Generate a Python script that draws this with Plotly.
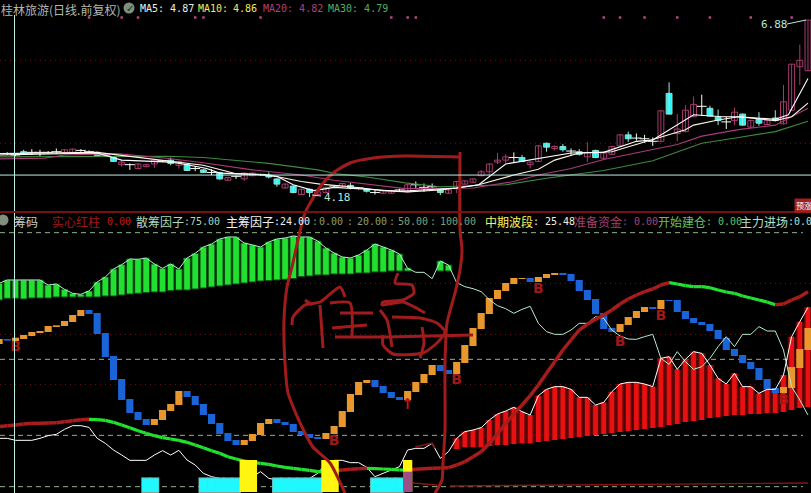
import plotly.graph_objects as go

# ---------- price pane (index 0..98) ----------
OPEN = [4.82,4.80,4.85,4.84,4.84,4.84,4.85,4.84,4.84,4.87,4.85,4.84,4.80,4.76,4.65,4.65,4.59,4.62,4.66,4.71,
        4.72,4.64,4.65,4.59,4.57,4.53,4.53,4.41,4.47,4.43,4.48,4.50,4.49,4.43,4.29,4.32,4.19,4.27,4.19,4.22,
        4.32,4.32,4.33,4.29,4.27,4.22,4.21,4.21,4.26,4.23,4.34,4.30,4.31,4.27,4.21,4.28,4.35,4.38,4.48,4.54,
        4.69,4.72,4.76,4.76,4.65,4.70,4.98,4.90,4.93,4.86,4.85,4.77,4.87,4.75,4.81,4.94,5.11,5.06,5.05,5.01,
        5.01,5.75,5.13,5.16,5.39,5.55,5.52,5.38,5.31,5.33,5.43,5.23,5.35,5.27,5.37,5.28,5.49,6.16,6.10]
HIGH = [4.84,4.82,4.88,4.89,4.88,4.86,4.90,4.89,4.90,4.89,4.87,4.85,4.82,4.77,4.72,4.67,4.67,4.66,4.73,4.72,
        4.76,4.71,4.66,4.63,4.58,4.58,4.54,4.46,4.48,4.53,4.53,4.51,4.53,4.44,4.36,4.33,4.28,4.28,4.24,4.31,
        4.33,4.37,4.37,4.30,4.28,4.27,4.26,4.26,4.28,4.35,4.39,4.36,4.36,4.28,4.27,4.40,4.41,4.44,4.57,4.67,
        4.83,4.81,4.84,4.80,4.70,4.95,4.99,4.95,4.97,4.90,4.89,5.00,4.88,4.84,4.94,5.12,5.16,5.13,5.11,5.07,
        5.49,5.92,5.43,5.57,5.70,5.73,5.56,5.50,5.39,5.53,5.44,5.34,5.46,5.34,5.49,5.88,6.20,6.50,6.88]
LOW = [4.80,4.78,4.80,4.80,4.78,4.82,4.82,4.83,4.83,4.85,4.83,4.79,4.78,4.70,4.62,4.57,4.58,4.61,4.60,4.69,
       4.64,4.59,4.56,4.55,4.52,4.49,4.42,4.40,4.43,4.40,4.47,4.48,4.44,4.31,4.28,4.21,4.19,4.15,4.18,4.21,
       4.31,4.30,4.27,4.27,4.22,4.19,4.20,4.20,4.24,4.22,4.29,4.23,4.26,4.18,4.20,4.21,4.34,4.37,4.47,4.48,
       4.66,4.67,4.68,4.70,4.59,4.69,4.85,4.87,4.85,4.79,4.79,4.69,4.75,4.74,4.80,4.93,5.00,5.02,4.99,4.94,
       5.00,5.43,5.01,5.15,5.38,5.40,5.40,5.26,5.20,5.26,5.25,5.22,5.25,5.26,5.32,5.27,5.48,5.88,6.09]
CLOSE = [4.82,4.80,4.83,4.84,4.84,4.84,4.85,4.88,4.89,4.87,4.85,4.79,4.80,4.70,4.69,4.65,4.66,4.65,4.72,4.71,
         4.67,4.70,4.56,4.59,4.53,4.53,4.43,4.45,4.47,4.52,4.52,4.50,4.46,4.35,4.35,4.22,4.27,4.22,4.23,4.30,
         4.32,4.36,4.29,4.29,4.24,4.22,4.25,4.25,4.26,4.34,4.34,4.30,4.31,4.22,4.26,4.39,4.40,4.43,4.54,4.66,
         4.72,4.77,4.76,4.70,4.69,4.94,4.92,4.93,4.88,4.86,4.81,4.84,4.76,4.83,4.93,5.11,5.05,5.06,5.05,5.01,
         5.48,5.43,5.20,5.49,5.58,5.55,5.40,5.33,5.31,5.46,5.26,5.33,5.29,5.33,5.33,5.62,6.20,6.26,6.88]

MA5_I = [-1,11,14,20,22,24.4,26,30.5,33,35,37.5,40,44,48,55,57.7,61,63.4,66,69,73,77,79,81,84,87.5,89.5,94,95.6,98]
MA5_V = [4.80,4.83,4.72,4.69,4.65,4.59,4.52,4.50,4.47,4.34,4.25,4.30,4.27,4.24,4.29,4.34,4.66,4.71,4.77,4.83,4.84,5.01,5.03,5.19,5.42,5.39,5.39,5.35,5.42,5.98]
MA10_I = [-1,11,15.5,19.5,24,28,32,36,38.3,42,46,49,53,55,57.7,62,65,67,70,74,79,83,84,87,89.5,94,96,98]
MA10_V = [4.82,4.84,4.77,4.71,4.64,4.51,4.49,4.39,4.35,4.31,4.25,4.23,4.26,4.29,4.34,4.49,4.58,4.72,4.83,4.85,5.04,5.19,5.26,5.34,5.39,5.33,5.39,5.60]
MA20_I = [-1,4.5,7,13.4,19.5,24,30,36,40,44,48.7,57,62,65,69,73,79,82,85,89.5,94,98]
MA20_V = [4.74,4.75,4.80,4.82,4.75,4.68,4.57,4.49,4.41,4.35,4.28,4.29,4.39,4.49,4.59,4.73,4.88,4.96,5.09,5.19,5.26,5.52]
MA30_I = [-1,9,19.5,24,32,38,40.3,44,48.7,53,61,66,73,79,85,89.5,94,98]
MA30_V = [4.77,4.77,4.78,4.76,4.67,4.57,4.51,4.46,4.37,4.31,4.34,4.44,4.56,4.71,4.98,5.07,5.16,5.32]
SIGNAL_DOTS = [10,14,16,23,24,31,47,49,50,73,75,78,82,86,91,96]
SIGNAL_DOT_PRICE = 6.92
PRICE_DOTTED = [6.26, 4.98]
CROSS_PRICE = 4.49

# ---------- indicator pane, height units (3 per screen pixel, 0 = lowest dashed line) ----------
GREEN_I = list(range(-1, 50)) + [53, 54]
GREEN_TOP = [610,620,620,620,620,620,605,608,592,580,577,587,614,629,653,666,683,682,686,668,655,668,653,686,700,719,728,743,749,749,731,725,719,734,
             743,746,752,749,749,737,716,701,689,686,695,710,728,719,710,698,656,677,665]
GREEN_BOT = [560,565,565,563,566,566,566,569,569,569,569,569,569,572,572,575,578,580,582,584,584,588,590,590,593,596,599,602,605,608,611,614,617,618,
             620,622,624,630,632,635,635,638,638,638,641,641,644,644,647,647,647,647,647]
THIN_I = list(range(-1, 99))
THIN = [610,620,620,620,620,620,605,608,592,580,577,587,614,629,653,666,683,682,686,668,655,668,653,686,700,719,728,743,749,749,731,725,719,734,
        743,746,752,749,749,737,716,701,689,686,695,710,728,719,710,698,655,643,643,624,677,665,612,600,594,585,561,543,534,520,532,541,490,465,457,457,
        470,490,490,510,505,470,452,443,442,450,457,385,367,405,375,352,360,385,420,450,420,457,457,480,467,467,410,300,260,215]
WHITE = [145,145,139,139,139,145,153,157,172,183,183,178,145,130,110,95,79,79,79,95,108,95,109,80,65,40,30,25,15,10,15,30,45,25,
         20,18,18,20,25,40,70,79,79,72,72,58,30,40,50,60,110,115,115,130,85,105,145,165,170,177,200,218,227,238,225,215,273,292,300,300,
         292,268,268,245,253,285,308,313,313,308,300,385,390,352,382,405,400,365,325,308,340,300,300,280,292,292,335,450,495,538]
RED_I = list(range(55, 99))
RED_BOT = [113,118,118,118,122,125,125,128,130,130,134,137,140,143,146,149,152,155,158,161,164,167,170,173,176,179,185,188,194,197,200,206,209,212,215,215,218,218,221,221,224,230,236,239]
WAVE_OPEN = [428,443,437,443,452,461,464,479,482,494,512,530,521,461,392,323,263,224,203,185,200,227,245,287,272,248,218,191,161,140,125,137,155,188,
             203,194,188,167,158,149,143,158,179,224,275,311,320,302,284,269,260,284,311,335,365,350,338,371,422,473,518,563,587,608,623,626,614,626,635,641,
             638,620,590,563,521,476,464,485,506,524,539,533,560,560,527,506,494,488,470,446,413,395,374,356,323,296,281,296,356,410]
WAVE_CLOSE = [443,438,447,455,464,467,482,484,497,515,530,518,458,389,320,260,221,200,185,203,230,248,287,269,245,215,188,158,137,125,140,158,191,203,
              191,185,164,155,146,143,161,182,227,278,314,320,299,281,266,260,287,314,338,365,347,338,374,425,476,521,566,590,611,626,626,614,629,638,641,635,
              617,587,560,518,473,464,488,509,527,539,533,560,557,524,503,491,485,467,443,410,392,371,353,320,293,281,299,359,413,476]
TREND = [180,183,183,185,188,190,190,191,192,195,198,201,202,201,199,193,185,177,168,160,153,147,143,139,133,125,117,108,100,90,83,77,73,70,67,
         62,58,55,52,49,45,45,48,50,52,54,55,54,53,52,50,50,52,54,55,56,57,65,75,90,105,130,158,190,218,245,273,305,340,375,410,440,470,487,502,515,530,548,563,575,585,593,605,612,
         608,603,600,600,597,590,584,580,572,566,560,554,546,548,560,570,585]
TREND = TREND[:1] + TREND[2:]
GRID_DASHED = [762, 382, 154, 0]
GRID_DOTTED = [610, 457, 307]

CYAN_I = [17,18,24,25,26,27,28,33,34,35,36,37,38,45,46,47,48]
CYAN_H = 25
YELLOW_I = [29,30,39,40,49]
YELLOW_H = 80
PURPLE_I = [49]
PURPLE_H = 45
SIGNAL_BASE = -16

B_I = [1,40,55,65,75,80,95]
B_H = [418,137,320,593,432,512,260]
ARROW_I = [49]
ARROW_H = [245]

# ---------- hand-drawn pen strokes, in screen pixels of the annotation layer ----------
PEN_X = [345,330,313,302,288,285,284,287,292,298,305,320,333,350,373,405,460,None,
         460,460,462,460,455,447,445,445,443,442,435,None,
         292,293,305,320,340,345,None,305,312,None,320,323,None,
         330,350,352,None,340,373,None,332,367,None,335,387,473,None,
         398,395,412,414,403,383,382,403,425,None,380,387,392,None,
         392,420,437,445,437,423,393,383,383,None,422,424,420]
PEN_Y = [493,463,447,427,393,363,320,287,267,240,213,187,173,163,158,156,157,None,
         152,230,250,270,293,323,363,430,463,480,493,None,
         325,317,305,302,287,297,None,300,305,None,305,348,None,
         303,303,338,None,313,313,None,328,325,None,337,337,335,None,
         273,283,285,293,300,302,305,302,313,None,310,320,347,None,
         317,318,323,332,343,353,354,345,335,None,327,343,358]
FINE_X = [413,437,None,450,808,None,415,432,435]
FINE_Y = [483,485,None,486,483,None,447,443,448]
LEADER_X = [787,806,None,321,312]
LEADER_Y = [24,20,None,196,195]

I = list(range(0, 99))
X_RANGE = [-0.893, 98.37]
BODY = 0.72

fig = go.Figure()

def segs(xs, a, b):
    x, y = [], []
    for k, p, q in zip(xs, a, b):
        x += [k, k, None]; y += [p, q, None]
    return x, y

UP = [k for k in I if CLOSE[k] > OPEN[k]]
DN = [k for k in I if CLOSE[k] < OPEN[k]]
DJ = [k for k in I if CLOSE[k] == OPEN[k]]
PUR, CY = '#a83a70', '#1ff8ff'

for ks, col, wick in ((UP, PUR, PUR), (DN, CY, '#a0e8d8'), (DJ, '#f4fff4', '#f4fff4')):
    wx, wy = segs(ks, [LOW[k] for k in ks], [HIGH[k] for k in ks])
    fig.add_trace(go.Scatter(x=wx, y=wy, mode='lines', line=dict(color=wick, width=1), xaxis='x', yaxis='y'))
fig.add_trace(go.Bar(x=UP, base=[OPEN[k] for k in UP], y=[CLOSE[k]-OPEN[k] for k in UP], width=BODY,
                     marker=dict(color='#000000', line=dict(color=PUR, width=1)), xaxis='x', yaxis='y'))
fig.add_trace(go.Bar(x=DN, base=[CLOSE[k] for k in DN], y=[OPEN[k]-CLOSE[k] for k in DN], width=BODY,
                     marker=dict(color=CY, line=dict(color='#8fdccc', width=1)), xaxis='x', yaxis='y'))
fig.add_trace(go.Scatter(x=DJ, y=[CLOSE[k] for k in DJ], mode='markers',
                         marker=dict(symbol='line-ew', size=7, line=dict(color='#f4fff4', width=1)), xaxis='x', yaxis='y'))
for xs, vs, col in ((MA30_I, MA30_V, '#3e8a3e'), (MA20_I, MA20_V, '#a83a78'), (MA10_I, MA10_V, '#fff4e0'), (MA5_I, MA5_V, '#ffffff')):
    fig.add_trace(go.Scatter(x=xs, y=vs, mode='lines', line=dict(color=col, width=1.1), xaxis='x', yaxis='y'))
fig.add_trace(go.Scatter(x=SIGNAL_DOTS, y=[SIGNAL_DOT_PRICE]*len(SIGNAL_DOTS), mode='markers',
                         marker=dict(symbol='square', size=2.5, color='#b04a86'), xaxis='x', yaxis='y'))

# indicator pane bars
fig.add_trace(go.Bar(x=GREEN_I, base=GREEN_BOT, y=[t-b for t, b in zip(GREEN_TOP, GREEN_BOT)], width=0.82,
                     marker=dict(color='#22e030', line=dict(color='#0a4a10', width=1)), xaxis='x', yaxis='y2'))
red_top = [WHITE[k+1] for k in RED_I]
fig.add_trace(go.Bar(x=RED_I, base=RED_BOT, y=[t-b for t, b in zip(red_top, RED_BOT)], width=1.0,
                     marker=dict(color='#5a0808', line=dict(width=0)), xaxis='x', yaxis='y2'))
fig.add_trace(go.Bar(x=RED_I, base=RED_BOT, y=[t-b for t, b in zip(red_top, RED_BOT)], width=0.58,
                     marker=dict(color='#e81010', line=dict(width=0)), xaxis='x', yaxis='y2'))
W_I = list(range(-1, 99))
for up, col in ((True, '#e8962e'), (False, '#1a64d8')):
    ks = [j for j in range(len(W_I)) if (WAVE_CLOSE[j] > WAVE_OPEN[j]) == up]
    fig.add_trace(go.Bar(x=[W_I[j] for j in ks], base=[min(WAVE_OPEN[j], WAVE_CLOSE[j]) for j in ks],
                         y=[abs(WAVE_CLOSE[j]-WAVE_OPEN[j]) for j in ks], width=0.87,
                         marker=dict(color=col, line=dict(width=0)), xaxis='x', yaxis='y2'))
# indicator pane lines
fig.add_trace(go.Scatter(x=THIN_I, y=THIN, mode='lines', line=dict(color='#b4ecd0', width=1), xaxis='x', yaxis='y2'))
fig.add_trace(go.Scatter(x=W_I, y=WHITE, mode='lines', line=dict(color='#ffffff', width=1), xaxis='x', yaxis='y2'))
tx_r, ty_r, tx_g, ty_g = [], [], [], []
rising = True
for j in range(len(W_I)-1):
    if TREND[j+1] != TREND[j]:
        rising = TREND[j+1] > TREND[j]
    if rising:
        tx_r += [W_I[j], W_I[j+1], None]; ty_r += [TREND[j], TREND[j+1], None]
    else:
        tx_g += [W_I[j], W_I[j+1], None]; ty_g += [TREND[j], TREND[j+1], None]
fig.add_trace(go.Scatter(x=tx_g, y=ty_g, mode='lines', line=dict(color='#22e030', width=3.2), xaxis='x', yaxis='y2'))
fig.add_trace(go.Scatter(x=tx_r, y=ty_r, mode='lines', line=dict(color='#a81c1c', width=3.5), xaxis='x', yaxis='y2'))
fig.add_trace(go.Scatter(x=B_I, y=B_H, mode='text', text=['<b>B</b>']*len(B_I),
                         textfont=dict(color='#a01818', size=14, family='DejaVu Sans'), xaxis='x', yaxis='y2'))
fig.add_trace(go.Scatter(x=ARROW_I, y=ARROW_H, mode='text', text=['<b>↑</b>'],
                         textfont=dict(color='#c01818', size=15, family='DejaVu Sans'), xaxis='x', yaxis='y2'))

# signal blocks (sit above the indicator lines)
fig.add_trace(go.Bar(x=CYAN_I, base=[SIGNAL_BASE-3]*len(CYAN_I), y=[CYAN_H+6-SIGNAL_BASE]*len(CYAN_I), width=1.2,
                     marker=dict(color='#84a094', line=dict(width=0)), xaxis='x', yaxis='y3'))
fig.add_trace(go.Bar(x=CYAN_I, base=[SIGNAL_BASE]*len(CYAN_I), y=[CYAN_H-SIGNAL_BASE]*len(CYAN_I), width=1.06,
                     marker=dict(color='#1ff8ff', line=dict(width=0)), xaxis='x', yaxis='y3'))
fig.add_trace(go.Bar(x=YELLOW_I, base=[SIGNAL_BASE]*len(YELLOW_I), y=[YELLOW_H-SIGNAL_BASE]*len(YELLOW_I), width=1.14,
                     marker=dict(color='#fff510', line=dict(width=0)), xaxis='x', yaxis='y3'))
fig.add_trace(go.Bar(x=PURPLE_I, base=[SIGNAL_BASE], y=[PURPLE_H-SIGNAL_BASE], width=1.14,
                     marker=dict(color='#9b4f85', line=dict(width=0)), xaxis='x', yaxis='y3'))

# pen layer
fig.add_trace(go.Scatter(x=PEN_X, y=PEN_Y, mode='lines', line=dict(color='#a01c1c', width=3, shape='spline', smoothing=0.6),
                         connectgaps=False, xaxis='x2', yaxis='y4'))
fig.add_trace(go.Scatter(x=FINE_X, y=FINE_Y, mode='lines', line=dict(color='#8a1414', width=1.4), xaxis='x2', yaxis='y4'))
fig.add_trace(go.Scatter(x=LEADER_X, y=LEADER_Y, mode='lines', line=dict(color='#b8ecdc', width=1), xaxis='x2', yaxis='y4'))

DIV = 1 - 212/493
hidden = dict(visible=False, fixedrange=True)
fig.update_layout(
    width=811, height=493, margin=dict(l=0, r=0, t=0, b=0), showlegend=False,
    paper_bgcolor='#000000', plot_bgcolor='rgba(0,0,0,0)', barmode='overlay', hovermode=False,
    xaxis=dict(hidden, range=X_RANGE, domain=[0, 1], anchor='y'),
    xaxis2=dict(hidden, range=[0, 811], domain=[0, 1], anchor='y4'),
    yaxis=dict(hidden, range=[3.92, 7.19], domain=[DIV, 1], anchor='x'),
    yaxis2=dict(hidden, range=[-19, 824], domain=[0, DIV], anchor='x'),
    yaxis3=dict(hidden, range=[-19, 824], domain=[0, DIV], anchor='x'),
    yaxis4=dict(hidden, range=[493, 0], domain=[0, 1], anchor='x2'),
)

shapes = []
for p in PRICE_DOTTED:
    shapes.append(dict(type='line', xref='paper', x0=0, x1=1, yref='y', y0=p, y1=p, layer='below',
                       line=dict(color='#7a1010', width=1, dash='1px 4px')))
for h in GRID_DOTTED:
    shapes.append(dict(type='line', xref='paper', x0=0, x1=1, yref='y2', y0=h, y1=h, layer='below',
                       line=dict(color='#7a1010', width=1, dash='1px 4px')))
for h in GRID_DASHED:
    shapes.append(dict(type='line', xref='paper', x0=0, x1=0.99, yref='y2', y0=h, y1=h, layer='below',
                       line=dict(color='#8fb48a', width=1, dash='5px 4px')))
shapes.append(dict(type='line', xref='paper', x0=0, x1=1, yref='y', y0=CROSS_PRICE, y1=CROSS_PRICE,
                   line=dict(color='#bfeee4', width=1)))
shapes.append(dict(type='line', xref='x2', x0=14.5, x1=14.5, yref='y4', y0=15, y1=493, line=dict(color='#bfeee4', width=1)))
shapes.append(dict(type='line', xref='paper', x0=0, x1=1, yref='y4', y0=212, y1=212, line=dict(color='#7a1010', width=2)))
for cx, cy in ((129, 8), (3, 220)):
    shapes.append(dict(type='circle', xref='x2', yref='y4', x0=cx-5.5, x1=cx+5.5, y0=cy-5.5, y1=cy+5.5,
                       fillcolor='#80907a', line=dict(color='#80907a', width=0)))
fig.update_layout(shapes=shapes)

CJK, MONO = 'Noto Sans CJK SC', 'DejaVu Sans Mono'
notes = [
    (0, 9, '桂林旅游(日线.前复权)', '#b0b8b0', 12, CJK),
    (124.5, 8, '✓', '#14301a', 10, 'DejaVu Sans'),
    (139, 8, 'MA5: 4.87', '#e8f0e8', 10, MONO),
    (197, 8, 'MA10:', '#f8e858', 10, MONO), (232, 8, '4.86', '#f8e858', 10, MONO),
    (262, 8, 'MA20: 4.82', '#b0407a', 10, MONO),
    (327, 8, 'MA30: 4.79', '#50b060', 10, MONO),
    (-1.5, 220, '✓', '#14301a', 10, 'DejaVu Sans'),
    (13, 221, '筹码', '#c8d0c8', 12, CJK),
    (51, 221, '实心红柱', '#a01818', 12, CJK), (106, 221, '0.00', '#c01818', 10, MONO),
    (135, 221, '散筹因子', '#a8d8b8', 12, CJK), (183, 221, ':75.00', '#a8d8b8', 10, MONO),
    (225, 221, '主筹因子', '#f0f0f0', 12, CJK), (273, 221, ':24.00', '#f0f0f0', 10, MONO),
    (311, 221, ':', '#84a070', 10, MONO), (318, 221, '0.00', '#84a070', 10, MONO),
    (346, 221, ':', '#84a070', 10, MONO), (356, 221, '20.00', '#84a070', 10, MONO),
    (388, 221, ':', '#84a070', 10, MONO), (397, 221, '50.00', '#84a070', 10, MONO),
    (429, 221, ':', '#84a070', 10, MONO), (439, 221, '100.00', '#84a070', 10, MONO),
    (484, 221, '中期波段', '#f8f060', 12, CJK), (532, 221, ': 25.48', '#f0f0e0', 10, MONO),
    (573, 221, '准备资金', '#a04070', 12, CJK), (621, 221, ': 0.00', '#b04070', 10, MONO),
    (657, 221, '开始建仓', '#60c060', 12, CJK), (705, 221, ': 0.00', '#60c060', 10, MONO),
    (739, 221, '主力进场', '#b0e0d0', 12, CJK), (787, 221, ':0.0', '#b0e0d0', 10, MONO),
    (760, 24, '6.88', '#b0e8d8', 11, MONO),
    (323, 197, '4.18', '#b0e8d8', 11, MONO),
]
for x, y, t, c, s, f in notes:
    fig.add_annotation(xref='x2', yref='y4', x=x, y=y, text=t, showarrow=False, xanchor='left', yanchor='middle',
                       font=dict(color=c, size=s, family=f), borderpad=0)
fig.add_annotation(xref='x2', yref='y4', x=794, y=205, text='预涨', showarrow=False, xanchor='left', yanchor='middle',
                   font=dict(color='#ffffff', size=8, family=CJK), bgcolor='#a02020', borderpad=1)

fig.write_html("out.html", config=dict(displayModeBar=False, staticPlot=True),
               post_script="document.body.style.margin='0';document.body.style.overflow='hidden';document.body.style.background='#000';")
